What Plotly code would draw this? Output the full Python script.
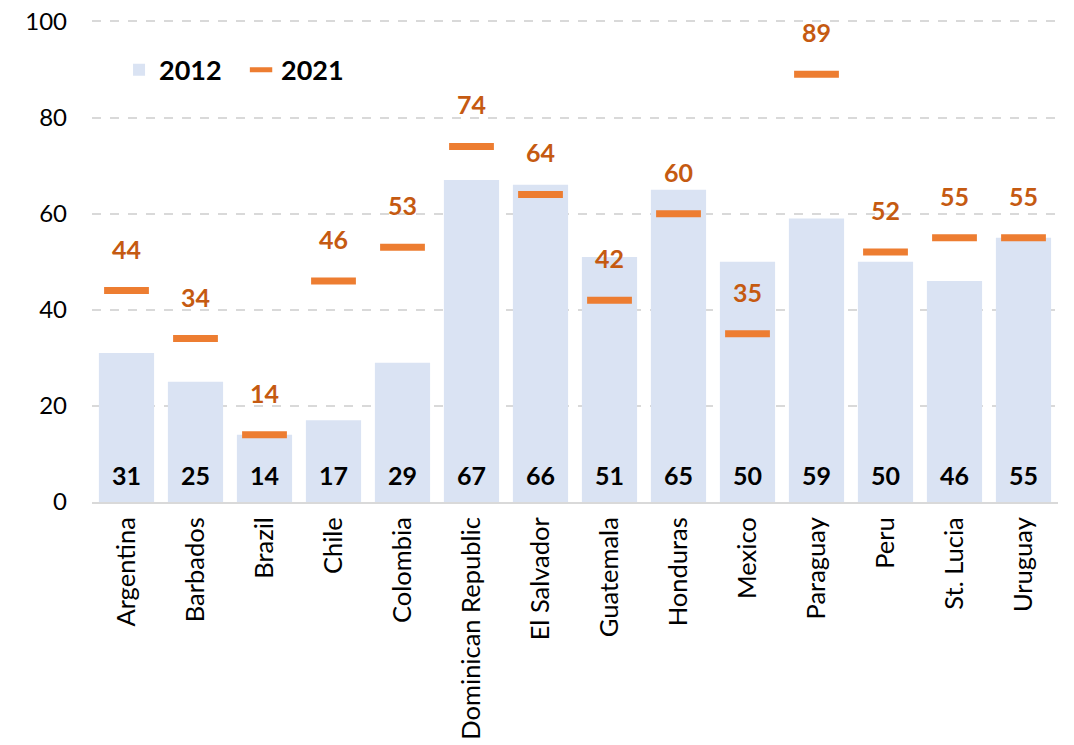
import plotly.graph_objects as go

countries = ["Argentina", "Barbados", "Brazil", "Chile", "Colombia",
             "Dominican Republic", "El Salvador", "Guatemala", "Honduras",
             "Mexico", "Paraguay", "Peru", "St. Lucia", "Uruguay"]
values_2012 = [31, 25, 14, 17, 29, 67, 66, 51, 65, 50, 59, 50, 46, 55]
values_2021 = [44, 34, 14, 46, 53, 74, 64, 42, 60, 35, 89, 52, 55, 55]
y_ticks = [0, 20, 40, 60, 80, 100]

FONT = "Lato, Carlito, Calibri, sans-serif"
BAR_COLOR = "#DAE3F3"
DASH_COLOR = "#ED7D31"
LABEL_ORANGE = "#C55A11"

fig = go.Figure()

fig.add_trace(go.Bar(
    x=countries, y=values_2012, name="2012",
    marker=dict(color=BAR_COLOR, line=dict(width=0)),
    width=0.8,
))

fig.add_trace(go.Scatter(
    x=countries, y=values_2021, name="2021", mode="markers",
    marker=dict(symbol="line-ew", size=32,
                line=dict(color=DASH_COLOR, width=7)),
))

# 2012 values written near the base of each bar
for c, v in zip(countries, values_2012):
    fig.add_annotation(
        x=c, y=0, text=f"<b>{v}</b>", showarrow=False,
        yanchor="middle", yshift=27,
        font=dict(family=FONT, size=25, color="black"),
    )

# value labels above the 2021 markers
for c, v in zip(countries, values_2021):
    fig.add_annotation(
        x=c, y=v, text=f"<b>{v}</b>", showarrow=False,
        yanchor="middle", yshift=42,
        font=dict(family=FONT, size=25, color=LABEL_ORANGE),
    )

fig.update_layout(
    width=1074, height=745,
    margin=dict(l=92, r=16, t=20, b=243),
    plot_bgcolor="white", paper_bgcolor="white",
    font=dict(family=FONT, size=22, color="black"),
    showlegend=True,
    legend=dict(
        orientation="h", x=0.028, y=0.896, xanchor="left", yanchor="middle",
        font=dict(family=FONT, size=27, color="black", weight="bold"),
        bgcolor="rgba(0,0,0,0)", itemwidth=30, entrywidth=77,
    ),
    bargap=0.2,
)

fig.update_yaxes(
    range=[0, 100.3], tickvals=y_ticks,
    showgrid=True, gridcolor="#D9D9D9", gridwidth=1.5, griddash="dash",
    zeroline=False, showline=False, ticks="", ticklen=0,
    tickfont=dict(family=FONT, size=24, color="black"),
    ticklabelstandoff=24, automargin=False,
)
fig.update_xaxes(
    range=[-0.5, len(countries) - 0.5],
    showline=True, linecolor="#D9D9D9", linewidth=2,
    tickangle=-90, ticks="",
    tickfont=dict(family=FONT, size=25.5, color="black"),
    ticklabelstandoff=3, automargin=False,
)

fig.write_html("out.html")
